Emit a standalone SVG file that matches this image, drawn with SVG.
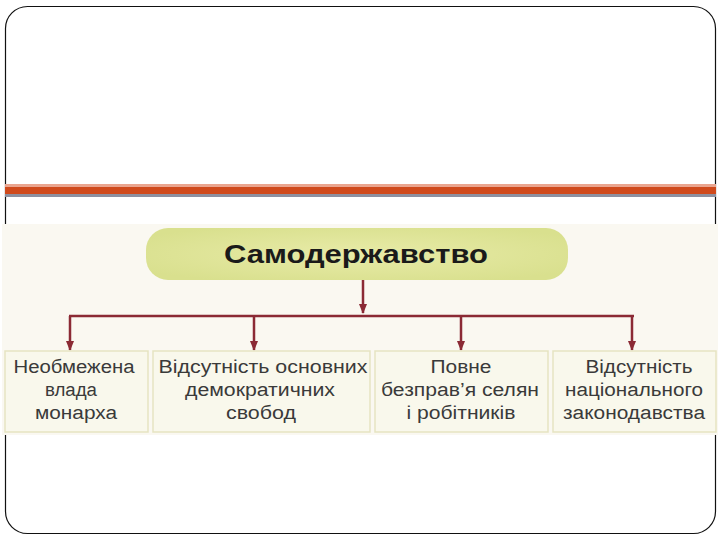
<svg xmlns="http://www.w3.org/2000/svg" width="720" height="540" viewBox="0 0 720 540">
<defs>
<marker id="ah" viewBox="0 0 10 10" refX="9" refY="5" markerWidth="10" markerHeight="10" markerUnits="userSpaceOnUse" orient="auto">
<path d="M0,1 L10,5 L0,9 z" fill="#8b2a35"/>
</marker>
<radialGradient id="pill" cx="0.5" cy="0.5" r="0.6">
<stop offset="0" stop-color="#e8eba8"/>
<stop offset="1" stop-color="#d9e08e"/>
</radialGradient>
<style>
.box{fill:#f9f8ec;stroke:#e6e4c2;stroke-width:1.5}
.t{font-family:"Liberation Sans",Arial,sans-serif;font-size:18px;fill:#3a3a3a;text-anchor:middle}
.c{stroke:#8b2a35;stroke-width:2.5;fill:none}
</style>
</defs>
<rect x="0" y="0" width="720" height="540" fill="#ffffff"/>
<rect x="5.5" y="6.5" width="710" height="527" rx="22" fill="#ffffff" stroke="#111" stroke-width="1.2"/>
<rect x="5" y="184" width="711" height="3" fill="#eaa58f"/>
<rect x="5" y="187" width="711" height="7" fill="#d04a1c"/>
<rect x="5" y="194" width="711" height="3" fill="#8d90a0"/>
<rect x="2" y="224" width="716" height="211" fill="#faf8f1"/>
<g id="root">
<rect x="146" y="228" width="422" height="52" rx="22" fill="url(#pill)"/>
<text x="356" y="263" font-family="'Liberation Sans',Arial,sans-serif" font-size="26" font-weight="bold" fill="#1a1a1a" text-anchor="middle" textLength="264" lengthAdjust="spacingAndGlyphs">Самодержавство</text>
</g>
<g id="connectors">
<line class="c" x1="363" y1="280" x2="363" y2="313" marker-end="url(#ah)"/>
<line class="c" x1="69" y1="316" x2="634" y2="316"/>
<line class="c" x1="70" y1="316" x2="70" y2="350" marker-end="url(#ah)"/>
<line class="c" x1="254" y1="316" x2="254" y2="350" marker-end="url(#ah)"/>
<line class="c" x1="461" y1="316" x2="461" y2="350" marker-end="url(#ah)"/>
<line class="c" x1="632" y1="316" x2="632" y2="350" marker-end="url(#ah)"/>
</g>
<g id="n1">
<rect class="box" x="5" y="351" width="143" height="81"/>
<text class="t" x="74" y="373" textLength="121" lengthAdjust="spacingAndGlyphs">Необмежена</text>
<text class="t" x="71" y="396" textLength="52" lengthAdjust="spacingAndGlyphs">влада</text>
<text class="t" x="76" y="419" textLength="82" lengthAdjust="spacingAndGlyphs">монарха</text>
</g>
<g id="n2">
<rect class="box" x="153" y="351" width="217" height="81"/>
<text class="t" x="263" y="373" textLength="209" lengthAdjust="spacingAndGlyphs">Відсутність основних</text>
<text class="t" x="260" y="396" textLength="150" lengthAdjust="spacingAndGlyphs">демократичних</text>
<text class="t" x="261" y="419" textLength="70" lengthAdjust="spacingAndGlyphs">свобод</text>
</g>
<g id="n3">
<rect class="box" x="375" y="351" width="173" height="81"/>
<text class="t" x="461" y="373" textLength="61" lengthAdjust="spacingAndGlyphs">Повне</text>
<text class="t" x="460" y="396" textLength="158" lengthAdjust="spacingAndGlyphs">безправ’я селян</text>
<text class="t" x="461" y="419" textLength="109" lengthAdjust="spacingAndGlyphs">і робітників</text>
</g>
<g id="n4">
<rect class="box" x="553" y="351" width="163" height="81"/>
<text class="t" x="639" y="373" textLength="107" lengthAdjust="spacingAndGlyphs">Відсутність</text>
<text class="t" x="634" y="396" textLength="138" lengthAdjust="spacingAndGlyphs">національного</text>
<text class="t" x="634" y="419" textLength="142" lengthAdjust="spacingAndGlyphs">законодавства</text>
</g>
</svg>
